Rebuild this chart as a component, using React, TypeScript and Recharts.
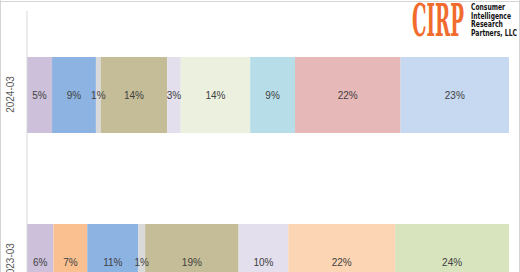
import { Bar, BarChart, LabelList, XAxis, YAxis } from 'recharts'

const periods = ['2024-03', '2023-03']

const seriesKeys = ['s1', 's2', 's3', 's4', 's5', 's6', 's7', 's8', 's9', 's10', 's11', 's12']
const seriesColors = [
    '#ccc0da', '#fac090', '#8db3e2', '#d9d9d9', '#c4bd97', '#e4dfec',
    '#ebf1de', '#b7dee8', '#e6b9b8', '#c6d9f1', '#fcd5b5', '#d7e4bd',
]
// share per period, in %
const values2024 = [5.2, 0, 9.1, 1.0, 13.8, 2.8, 14.4, 9.3, 21.9, 22.5, 0, 0]
const values2023 = [5.5, 7.0, 10.6, 1.4, 19.4, 10.3, 0, 0, 0, 0, 22.2, 23.6]

const logoLines = ['Consumer', 'Intelligence', 'Research', 'Partners, LLC']

const rows = [values2024, values2023]
const chartData = periods.map((p, i) => {
    const row: Record<string, string | number> = { period: p }
    seriesKeys.forEach((k, j) => {
        row[k] = rows[i][j]
    })
    return row
})

const fmt = (v: any) => (Number(v) > 0 ? `${Math.round(Number(v))}%` : '')

function PeriodTick({ x, y, payload }: any) {
    return (
        <text
            x={0}
            y={0}
            transform={`translate(${x - 9},${y}) rotate(-90)`}
            textAnchor="middle"
            dominantBaseline="central"
            fontSize={10}
            fill="#595959"
            fontFamily="Liberation Sans, Arial, sans-serif"
        >
            {payload.value}
        </text>
    )
}

export default function App() {
    return (
        <div style={{ position: 'fixed', left: 0, top: 0, width: 520, height: 272, overflow: 'hidden', background: '#fff' }}>
            <BarChart
                width={520}
                height={345}
                data={chartData}
                layout="vertical"
                margin={{ top: 11, right: 11, left: 0, bottom: 0 }}
                barSize={76}
            >
                <XAxis type="number" domain={[0, 100]} hide />
                <YAxis
                    type="category"
                    dataKey="period"
                    width={27}
                    axisLine={{ stroke: '#d9d9d9' }}
                    tickLine={false}
                    tick={<PeriodTick />}
                />
                {seriesKeys.map((k, i) => (
                    <Bar key={k} dataKey={k} stackId="a" fill={seriesColors[i]} isAnimationActive={false}>
                        <LabelList
                            dataKey={k}
                            position="center"
                            formatter={fmt}
                            fill="#404040"
                            fontSize={10}
                            fontFamily="Liberation Sans, Arial, sans-serif"
                        />
                    </Bar>
                ))}
            </BarChart>
            <svg width={520} height={272} style={{ position: 'absolute', left: 0, top: 0, pointerEvents: 'none' }}>
                <text
                    x={412}
                    y={36}
                    fontSize={44}
                    fontWeight="bold"
                    fontFamily="DejaVu Serif, serif"
                    fill="#f26b2e"
                    textLength={52}
                    lengthAdjust="spacingAndGlyphs"
                >
                    CIRP
                </text>
                {logoLines.map((t, i) => (
                    <text
                        key={t}
                        x={471}
                        y={10 + i * 8.5}
                        fontSize={8}
                        fontWeight="bold"
                        fontFamily="DejaVu Sans, sans-serif"
                        fill="#111"
                        textLength={[34, 40, 32, 46][i]}
                        lengthAdjust="spacingAndGlyphs"
                    >
                        {t}
                    </text>
                ))}
                <line x1={0} y1={1.5} x2={520} y2={1.5} stroke="#d4d4d4" />
                <line x1={0.5} y1={0} x2={0.5} y2={272} stroke="#d4d4d4" />
                <line x1={519.5} y1={0} x2={519.5} y2={272} stroke="#d4d4d4" />
            </svg>
        </div>
    )
}
